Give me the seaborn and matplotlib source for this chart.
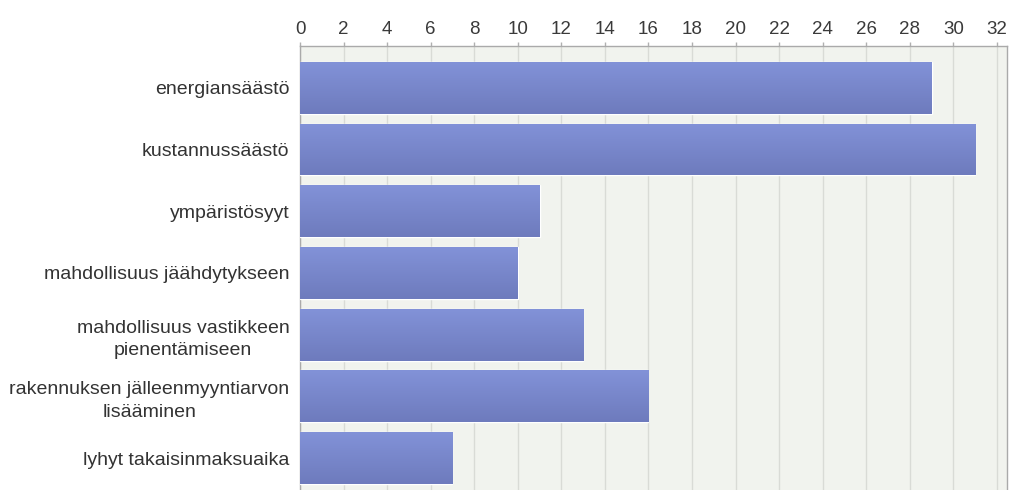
import numpy as np
import pandas as pd
import matplotlib
matplotlib.use("Agg")
import matplotlib.pyplot as plt
import seaborn as sns
from matplotlib.colors import LinearSegmentedColormap

categories = [
    "energiansäästö",
    "kustannussäästö",
    "ympäristösyyt",
    "mahdollisuus jäähdytykseen",
    "mahdollisuus vastikkeen\npienentämiseen",
    "rakennuksen jälleenmyyntiarvon\nlisääminen",
    "lyhyt takaisinmaksuaika",
]
values = [29, 31, 11, 10, 13, 16, 7]
x_ticks = list(range(0, 33, 2))

df = pd.DataFrame({"category": categories, "value": values})

sns.set_theme(style="white")
plt.rcParams["font.family"] = ["Liberation Sans", "DejaVu Sans"]

fig = plt.figure(figsize=(10.24, 4.9), dpi=100)
ax = fig.add_axes([300 / 1024, 0.0, (1007 - 300) / 1024, (490 - 46) / 490])

sns.barplot(data=df, x="value", y="category", orient="h", color="#7886cc",
            width=0.84, ax=ax, saturation=1, zorder=3)

# gradient fill on bars
cmap = LinearSegmentedColormap.from_list("g", ["#8292d8", "#6e7bbd"])
grad = np.linspace(0, 1, 64).reshape(-1, 1)
for p in ax.patches:
    x0, y0 = p.get_x(), p.get_y()
    w, h = p.get_width(), p.get_height()
    im = ax.imshow(grad, cmap=cmap, aspect="auto",
                   extent=(x0, x0 + w, y0 + h, y0), zorder=4,
                   origin="upper")
    im.set_clip_path(p)

ax.set_facecolor("#f1f3ee")
ax.set_xlim(0, 32.46)
ax.set_ylim(6 + (490 - 458) / 62, -(88 - 46) / 62)
ax.xaxis.tick_top()
ax.set_xticks(x_ticks)
ax.set_xticklabels([str(t) for t in x_ticks])
ax.grid(axis="x", color="#d9dbd6", linewidth=1, zorder=0)
ax.set_axisbelow(True)
ax.tick_params(axis="x", top=True, bottom=False, length=3, width=1,
               color="#b0b0b0", labelsize=13.5, labelcolor="#3a3a3a", pad=2.5)
ax.tick_params(axis="y", left=False, labelsize=14, labelcolor="#333333", pad=1.5)
for lab in ax.get_yticklabels():
    lab.set_multialignment("center")
    lab.set_linespacing(1.4)
ax.set_xlabel("")
ax.set_ylabel("")
for side in ["top", "right", "left"]:
    ax.spines[side].set_visible(True)
    ax.spines[side].set_color("#aaaaaa")
    ax.spines[side].set_linewidth(1)
ax.spines["bottom"].set_visible(False)

fig.savefig("out.png", dpi=100)
